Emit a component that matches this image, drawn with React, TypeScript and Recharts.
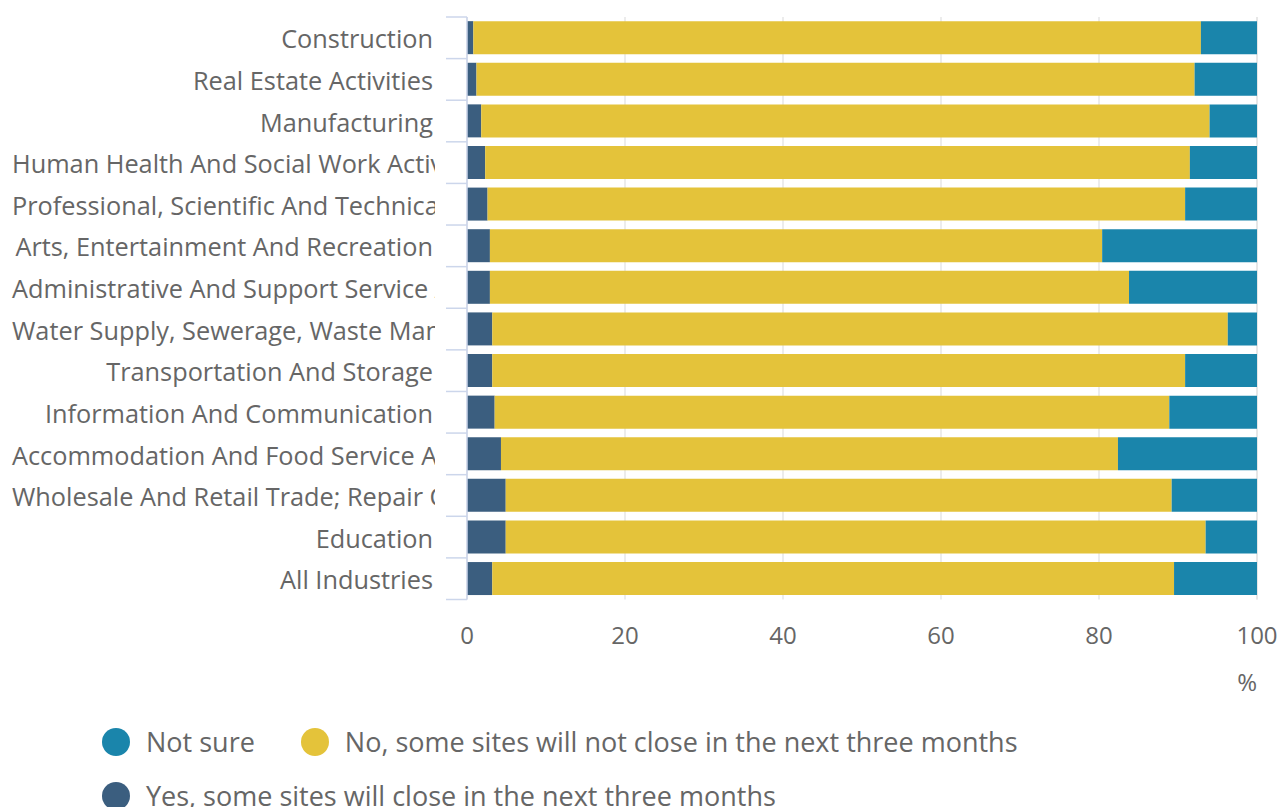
import React from 'react';
import { BarChart, Bar, XAxis, YAxis, CartesianGrid } from 'recharts';

// Share of businesses expecting to close sites, by industry (%)
const industries = [
  'Construction',
  'Real Estate Activities',
  'Manufacturing',
  'Human Health And Social Work Activities',
  'Professional, Scientific And Technical Activities',
  'Arts, Entertainment And Recreation',
  'Administrative And Support Service Activities',
  'Water Supply, Sewerage, Waste Management And Remediation Activities',
  'Transportation And Storage',
  'Information And Communication',
  'Accommodation And Food Service Activities',
  'Wholesale And Retail Trade; Repair Of Motor Vehicles And Motorcycles',
  'Education',
  'All Industries',
];
const yesClose = [0.8, 1.2, 1.8, 2.3, 2.6, 2.9, 2.9, 3.2, 3.2, 3.5, 4.3, 4.9, 4.9, 3.2];
const notClose = [92.1, 90.9, 92.2, 89.2, 88.3, 77.5, 80.9, 93.1, 87.7, 85.4, 78.1, 84.3, 88.6, 86.3];
const notSure = [7.1, 7.9, 6.0, 8.5, 9.1, 19.6, 16.2, 3.7, 9.1, 11.1, 17.6, 10.8, 6.5, 10.5];
const xTicks = [0, 20, 40, 60, 80, 100];

const SERIES = [
  { key: 'notSure', name: 'Not sure', color: '#1a85ab' },
  { key: 'no', name: 'No, some sites will not close in the next three months', color: '#e4c33a' },
  { key: 'yes', name: 'Yes, some sites will close in the next three months', color: '#3b5e7f' },
];

const data = industries.map((name, i) => ({
  name,
  yes: yesClose[i],
  no: notClose[i],
  notSure: notSure[i],
}));

const WIDTH = 1279;
const HEIGHT = 807;
const PLOT_LEFT = 467;
const PLOT_TOP = 17;
const PLOT_BOTTOM = 599.5;
const X_AXIS_H = 30;
const BAND = (PLOT_BOTTOM - PLOT_TOP) / industries.length;
const FONT = '"Open Sans", sans-serif';
const TEXT = '#666666';
const AXIS = '#ccd6eb';
const LABEL_SIZE = 25.3;
const LABEL_RIGHT = PLOT_LEFT - 34;
const LABEL_LEFT = 12;

let measureCtx: CanvasRenderingContext2D | null = null;
function textWidth(s: string) {
  if (!measureCtx) {
    measureCtx = document.createElement('canvas').getContext('2d');
  }
  if (!measureCtx) return 0;
  measureCtx.font = `${LABEL_SIZE}px "Open Sans"`;
  return measureCtx.measureText(s).width;
}

const CategoryTick = (props: any) => {
  const { y, payload, index } = props;
  const label: string = payload.value;
  const tooLong = textWidth(label) > LABEL_RIGHT - LABEL_LEFT;
  const clipId = `clip-${index}`;
  return (
    <g>
      <line x1={PLOT_LEFT - 21} x2={PLOT_LEFT} y1={y - BAND / 2} y2={y - BAND / 2} stroke={AXIS} strokeWidth={1.5} />
      {index === industries.length - 1 && (
        <line x1={PLOT_LEFT - 21} x2={PLOT_LEFT} y1={y + BAND / 2} y2={y + BAND / 2} stroke={AXIS} strokeWidth={1.5} />
      )}
      {tooLong && (
        <clipPath id={clipId}>
          <rect x={0} y={y - BAND / 2} width={LABEL_RIGHT + 2} height={BAND} />
        </clipPath>
      )}
      <text
        x={tooLong ? LABEL_LEFT : LABEL_RIGHT}
        y={y}
        dy="0.42em"
        textAnchor={tooLong ? 'start' : 'end'}
        clipPath={tooLong ? `url(#${clipId})` : undefined}
        fill={TEXT}
        fontSize={LABEL_SIZE}
        fontFamily={FONT}
      >
        {label}
      </text>
    </g>
  );
};

const ValueTick = (props: any) => {
  const { x, payload } = props;
  return (
    <text x={x} y={PLOT_BOTTOM + 36} dy="0.35em" textAnchor="middle" fill={TEXT} fontSize={24} fontFamily={FONT}>
      {payload.value}
    </text>
  );
};

const legendRows = [[SERIES[0], SERIES[1]], [SERIES[2]]];

export default function App() {
  return (
    <div style={{ position: 'absolute', left: 0, top: 0, width: WIDTH, height: HEIGHT, overflow: 'hidden', fontFamily: FONT, background: '#fff' }}>
      <BarChart
        width={WIDTH}
        height={HEIGHT}
        data={data}
        layout="vertical"
        barCategoryGap="10%"
        margin={{ top: PLOT_TOP, right: 22, left: 0, bottom: HEIGHT - PLOT_BOTTOM - X_AXIS_H }}
      >
        <CartesianGrid horizontal={false} stroke="#e6e6e6" strokeWidth={1.5} />
        <XAxis
          type="number"
          domain={[0, 100]}
          ticks={xTicks}
          height={X_AXIS_H}
          axisLine={false}
          tickLine={false}
          tick={<ValueTick />}
          interval={0}
        />
        <YAxis
          type="category"
          dataKey="name"
          width={PLOT_LEFT}
          axisLine={{ stroke: AXIS, strokeWidth: 1.5 }}
          tickLine={false}
          tick={<CategoryTick />}
          interval={0}
        />
        <Bar dataKey="yes" stackId="a" fill={SERIES[2].color} isAnimationActive={false} />
        <Bar dataKey="no" stackId="a" fill={SERIES[1].color} isAnimationActive={false} />
        <Bar dataKey="notSure" stackId="a" fill={SERIES[0].color} isAnimationActive={false} />
      </BarChart>

      <div style={{ position: 'absolute', right: WIDTH - 1257, top: 667, fontSize: 24, color: TEXT, lineHeight: '30px' }}>%</div>

      {legendRows.map((row, r) => (
        <div key={r} style={{ position: 'absolute', left: 102, top: 728 + r * 54, display: 'flex', alignItems: 'center', height: 28 }}>
          {row.map((s) => (
            <div key={s.key} style={{ display: 'flex', alignItems: 'center', marginRight: 46 }}>
              <span style={{ width: 28, height: 28, borderRadius: '50%', background: s.color, display: 'inline-block', marginRight: 16 }} />
              <span style={{ fontSize: 27, color: TEXT, whiteSpace: 'nowrap', lineHeight: '28px' }}>{s.name}</span>
            </div>
          ))}
        </div>
      ))}
    </div>
  );
}
